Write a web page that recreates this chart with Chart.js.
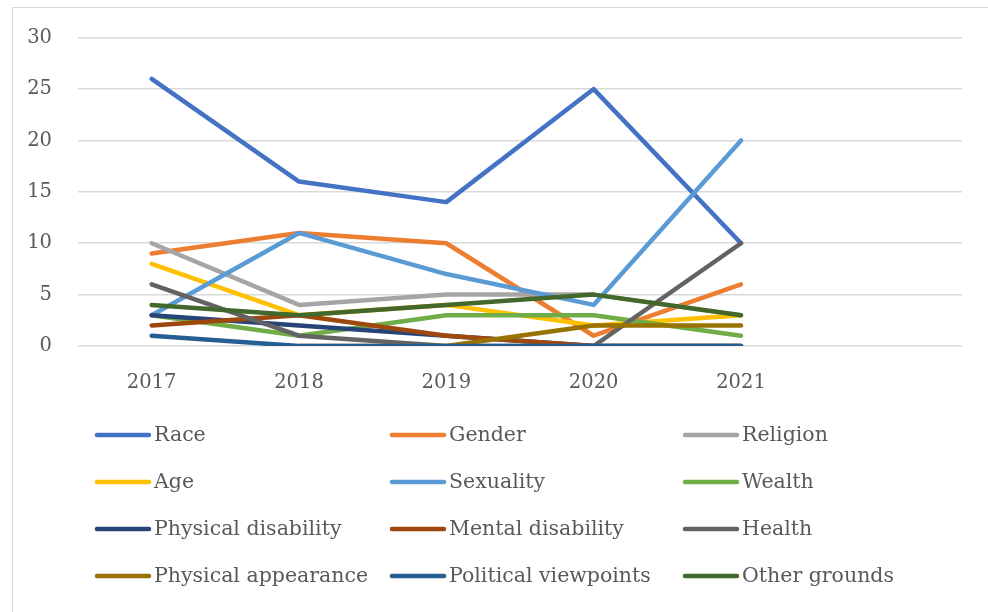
<!DOCTYPE html>
<html>
<head>
<meta charset="utf-8">
<script src="https://cdn.jsdelivr.net/npm/chart.js@4.4.1/dist/chart.umd.min.js"></script>
<style>
  html, body { margin: 0; padding: 0; background: #ffffff; overflow: hidden; }
  #wrap { position: relative; width: 988px; height: 612px; }
  #frame { position: absolute; left: 12px; top: 7px; width: 1000px; height: 700px; border: 1px solid #d9d9d9; box-sizing: border-box; }
  canvas { position: absolute; left: 0; top: 0; }
</style>
</head>
<body>
<div id="wrap">
  <div id="frame"></div>
  <canvas id="c" width="988" height="612"></canvas>
</div>
<script>
// ---- data ----
const categories = ['2017', '2018', '2019', '2020', '2021', ''];
const seriesNames = ['Race', 'Gender', 'Religion', 'Age', 'Sexuality', 'Wealth',
  'Physical disability', 'Mental disability', 'Health',
  'Physical appearance', 'Political viewpoints', 'Other grounds'];
const race = [26, 16, 14, 25, 10];
const gender = [9, 11, 10, 1, 6];
const religion = [10, 4, 5, 5, 3];
const age = [8, 3, 4, 2, 3];
const sexuality = [3, 11, 7, 4, 20];
const wealth = [3, 1, 3, 3, 1];
const physicalDisability = [3, 2, 1, 0, 0];
const mentalDisability = [2, 3, 1, 0, 0];
const health = [6, 1, 0, 0, 10];
const physicalAppearance = [null, 0, 0, 2, 2];
const politicalViewpoints = [1, 0, 0, 0, 0];
const otherGrounds = [4, 3, 4, 5, 3];
const yTicks = [0, 5, 10, 15, 20, 25, 30];

const seriesValues = [race, gender, religion, age, sexuality, wealth,
  physicalDisability, mentalDisability, health,
  physicalAppearance, politicalViewpoints, otherGrounds];
const colors = ['#4472C4', '#ED7D31', '#A5A5A5', '#FFC000', '#5B9BD5', '#70AD47',
  '#264478', '#9E480E', '#636363', '#997300', '#255E91', '#43682B'];

const FONT = "'DejaVu Serif', 'Liberation Serif', serif";
const TEXT = '#595959';

const datasets = seriesNames.map((name, i) => ({
  label: name,
  data: seriesValues[i],
  borderColor: colors[i],
  backgroundColor: colors[i],
  borderWidth: 4.5,
  borderCapStyle: 'round',
  borderJoinStyle: 'round',
  pointRadius: 0,
  pointHoverRadius: 0,
  tension: 0,
  fill: false,
  order: -i
}));

const gridLegend = {
  id: 'gridLegend',
  afterDraw(chart) {
    const ctx = chart.ctx;
    const colX = [95, 390, 683];
    const rowY = [435, 482, 529, 576];
    ctx.save();
    ctx.font = '20.5px ' + FONT;
    ctx.textBaseline = 'middle';
    ctx.textAlign = 'left';
    seriesNames.forEach((name, i) => {
      const x = colX[i % 3];
      const y = rowY[Math.floor(i / 3)];
      ctx.strokeStyle = colors[i];
      ctx.lineWidth = 4.5;
      ctx.lineCap = 'round';
      ctx.beginPath();
      ctx.moveTo(x + 2, y);
      ctx.lineTo(x + 54, y);
      ctx.stroke();
      ctx.fillStyle = TEXT;
      ctx.fillText(name, x + 59, y + 1);
    });
    ctx.restore();
  }
};

new Chart(document.getElementById('c'), {
  type: 'line',
  data: { labels: categories, datasets },
  plugins: [gridLegend],
  options: {
    responsive: false,
    animation: false,
    events: [],
    layout: { padding: { left: 0, right: 26, top: 37, bottom: 221 } },
    plugins: { legend: { display: false }, tooltip: { enabled: false } },
    scales: {
      x: {
        offset: true,
        grid: { display: false },
        border: { display: false },
        ticks: { color: TEXT, font: { family: FONT, size: 19.5 }, padding: 17, maxRotation: 0, autoSkip: false },
        afterFit(scale) { scale.height = 45; }
      },
      y: {
        min: 0, max: 30,
        afterBuildTicks(scale) { scale.ticks = yTicks.map(v => ({ value: v })); },
        grid: { color: '#d9d9d9', lineWidth: 1.5, drawTicks: false },
        border: { display: false },
        ticks: { color: TEXT, font: { family: FONT, size: 19.5 }, padding: 26 },
        afterFit(scale) { scale.width = 78; }
      }
    }
  }
});
</script>
</body>
</html>
